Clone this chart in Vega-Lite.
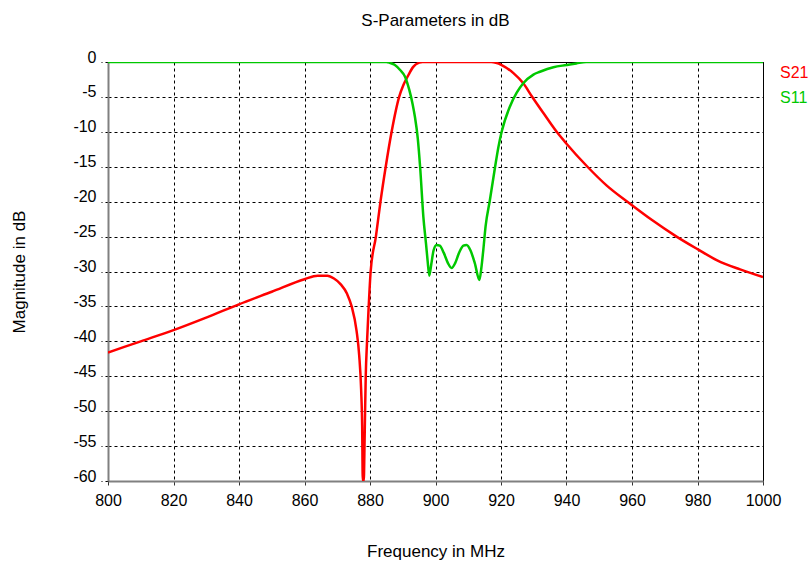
{
  "$schema": "https://vega.github.io/schema/vega-lite/v6.json",
  "width": 655,
  "height": 419,
  "autosize": {"type": "none"},
  "padding": {"left": 108, "top": 62, "right": 46, "bottom": 80},
  "background": "white",
  "config": {
    "font": "Liberation Sans",
    "view": {"stroke": "black", "strokeWidth": 1}
  },
  "title": {
    "text": "S-Parameters in dB",
    "fontSize": 17,
    "fontWeight": "normal",
    "font": "Liberation Sans",
    "color": "black",
    "frame": "group",
    "offset": 19,
    "anchor": "middle"
  },
  "datasets": {
    "curves": [
      {"s": "S21", "f": 800, "db": -41.6},
      {"s": "S21", "f": 810, "db": -40.0},
      {"s": "S21", "f": 820, "db": -38.4},
      {"s": "S21", "f": 830, "db": -36.6},
      {"s": "S21", "f": 840, "db": -34.7},
      {"s": "S21", "f": 850, "db": -32.9},
      {"s": "S21", "f": 860, "db": -31.1},
      {"s": "S21", "f": 864, "db": -30.6},
      {"s": "S21", "f": 867, "db": -30.6},
      {"s": "S21", "f": 869, "db": -31.0},
      {"s": "S21", "f": 871, "db": -31.8},
      {"s": "S21", "f": 873, "db": -33.2},
      {"s": "S21", "f": 874.4, "db": -35},
      {"s": "S21", "f": 875.9, "db": -38.5},
      {"s": "S21", "f": 876.7, "db": -42},
      {"s": "S21", "f": 877.3, "db": -47},
      {"s": "S21", "f": 877.6, "db": -52},
      {"s": "S21", "f": 877.8, "db": -60},
      {"s": "S21", "f": 878.1, "db": -60},
      {"s": "S21", "f": 878.3, "db": -55.6},
      {"s": "S21", "f": 878.5, "db": -50},
      {"s": "S21", "f": 878.7, "db": -45},
      {"s": "S21", "f": 879.1, "db": -40},
      {"s": "S21", "f": 879.6, "db": -35},
      {"s": "S21", "f": 880.2, "db": -30},
      {"s": "S21", "f": 881.8, "db": -25},
      {"s": "S21", "f": 883.2, "db": -20},
      {"s": "S21", "f": 884.8, "db": -15},
      {"s": "S21", "f": 886.6, "db": -10},
      {"s": "S21", "f": 888.9, "db": -5},
      {"s": "S21", "f": 890.2, "db": -3.3},
      {"s": "S21", "f": 891.7, "db": -1.9},
      {"s": "S21", "f": 893.2, "db": -0.7},
      {"s": "S21", "f": 895, "db": -0.1},
      {"s": "S21", "f": 896, "db": 0},
      {"s": "S21", "f": 917, "db": 0},
      {"s": "S21", "f": 920.2, "db": -0.43},
      {"s": "S21", "f": 923.8, "db": -1.6},
      {"s": "S21", "f": 926.8, "db": -3.05},
      {"s": "S21", "f": 929.4, "db": -4.9},
      {"s": "S21", "f": 933, "db": -7.35},
      {"s": "S21", "f": 937, "db": -10},
      {"s": "S21", "f": 940, "db": -11.7},
      {"s": "S21", "f": 946.4, "db": -15},
      {"s": "S21", "f": 952.3, "db": -17.7},
      {"s": "S21", "f": 959.4, "db": -20.3},
      {"s": "S21", "f": 966, "db": -22.6},
      {"s": "S21", "f": 973.6, "db": -25},
      {"s": "S21", "f": 980, "db": -26.8},
      {"s": "S21", "f": 986, "db": -28.4},
      {"s": "S21", "f": 993, "db": -29.7},
      {"s": "S21", "f": 1000, "db": -30.8},
      {"s": "S11", "f": 800, "db": 0},
      {"s": "S11", "f": 885, "db": 0},
      {"s": "S11", "f": 886, "db": -0.1},
      {"s": "S11", "f": 887.5, "db": -0.4},
      {"s": "S11", "f": 889.2, "db": -1.15},
      {"s": "S11", "f": 890.7, "db": -2.1},
      {"s": "S11", "f": 892, "db": -4},
      {"s": "S11", "f": 893, "db": -6},
      {"s": "S11", "f": 893.7, "db": -7.8},
      {"s": "S11", "f": 894.6, "db": -11},
      {"s": "S11", "f": 895.3, "db": -15},
      {"s": "S11", "f": 896.3, "db": -22.2},
      {"s": "S11", "f": 897.1, "db": -26},
      {"s": "S11", "f": 897.6, "db": -28.5},
      {"s": "S11", "f": 898.1, "db": -30.6},
      {"s": "S11", "f": 898.7, "db": -29},
      {"s": "S11", "f": 899.4, "db": -27},
      {"s": "S11", "f": 900.3, "db": -26.2},
      {"s": "S11", "f": 901.3, "db": -26.3},
      {"s": "S11", "f": 902.5, "db": -27.3},
      {"s": "S11", "f": 903.8, "db": -28.8},
      {"s": "S11", "f": 904.9, "db": -29.5},
      {"s": "S11", "f": 906, "db": -28.8},
      {"s": "S11", "f": 907.3, "db": -27.2},
      {"s": "S11", "f": 908.5, "db": -26.3},
      {"s": "S11", "f": 909.5, "db": -26.2},
      {"s": "S11", "f": 910.7, "db": -27},
      {"s": "S11", "f": 912, "db": -28.8},
      {"s": "S11", "f": 913.4, "db": -31.2},
      {"s": "S11", "f": 914, "db": -29.5},
      {"s": "S11", "f": 914.6, "db": -26.9},
      {"s": "S11", "f": 915.3, "db": -23.5},
      {"s": "S11", "f": 916.6, "db": -19.8},
      {"s": "S11", "f": 918.2, "db": -15},
      {"s": "S11", "f": 919.2, "db": -12.2},
      {"s": "S11", "f": 920.2, "db": -10},
      {"s": "S11", "f": 922.7, "db": -6.4},
      {"s": "S11", "f": 924.8, "db": -4.4},
      {"s": "S11", "f": 926.8, "db": -3.05},
      {"s": "S11", "f": 929.9, "db": -1.8},
      {"s": "S11", "f": 931.9, "db": -1.4},
      {"s": "S11", "f": 936, "db": -0.75},
      {"s": "S11", "f": 940, "db": -0.43},
      {"s": "S11", "f": 943, "db": -0.2},
      {"s": "S11", "f": 946, "db": 0},
      {"s": "S11", "f": 1000, "db": 0}
    ],
    "labels": [
      {"s": "S21", "f": 1000, "db": -1.6},
      {"s": "S11", "f": 1000, "db": -5.2}
    ]
  },
  "encoding": {
    "x": {
      "field": "f",
      "type": "quantitative",
      "scale": {"domain": [800, 1000], "nice": false, "zero": false},
      "axis": {
        "values": [800, 820, 840, 860, 880, 900, 920, 940, 960, 980, 1000],
        "labelExpr": "toString(datum.value)",
        "title": "Frequency in MHz",
        "titleFontSize": 17,
        "titleFontWeight": "normal",
        "titleColor": "black",
        "titleY": 70,
        "titleBaseline": "middle",
        "labelFontSize": 16,
        "labelColor": "black",
        "labelPadding": 7,
        "labelFlush": false,
        "labelOverlap": false,
        "tickSize": 4,
        "tickColor": "#333333",
        "domainColor": "#808080",
        "domainWidth": 2,
        "grid": true,
        "gridColor": "black",
        "gridDash": [3, 3],
        "gridOpacity": 1,
        "gridWidth": 1
      }
    },
    "y": {
      "field": "db",
      "type": "quantitative",
      "scale": {"domain": [-60, 0], "nice": false, "zero": false},
      "axis": {
        "values": [-60, -55, -50, -45, -40, -35, -30, -25, -20, -15, -10, -5, 0],
        "labelExpr": "toString(datum.value)",
        "title": "Magnitude in dB",
        "titleFontSize": 17,
        "titleFontWeight": "normal",
        "titleColor": "black",
        "titleX": -89,
        "titleBaseline": "middle",
        "labelFontSize": 16,
        "labelColor": "black",
        "labelPadding": 5,
        "labelBaseline": "alphabetic",
        "labelFlush": false,
        "labelOverlap": false,
        "tickSize": 7,
        "tickColor": "black",
        "tickDash": [3, 3],
        "domainColor": "#808080",
        "domainWidth": 2,
        "grid": true,
        "gridColor": "black",
        "gridDash": [3, 3],
        "gridOpacity": 1,
        "gridWidth": 1
      }
    },
    "color": {
      "field": "s",
      "type": "nominal",
      "scale": {"domain": ["S21", "S11"], "range": ["#ff0000", "#00c800"]},
      "legend": null
    }
  },
  "layer": [
    {
      "data": {"name": "curves"},
      "transform": [{"filter": "datum.s == 'S21'"}],
      "mark": {"type": "line", "strokeWidth": 2.5, "clip": true, "interpolate": "monotone"}
    },
    {
      "data": {"name": "curves"},
      "transform": [{"filter": "datum.s == 'S11'"}],
      "mark": {"type": "line", "strokeWidth": 2.5, "clip": true, "interpolate": "monotone"}
    },
    {
      "data": {"name": "labels"},
      "mark": {"type": "text", "align": "left", "baseline": "middle", "dx": 17, "fontSize": 16, "font": "Liberation Sans"},
      "encoding": {"text": {"field": "s"}}
    }
  ]
}
